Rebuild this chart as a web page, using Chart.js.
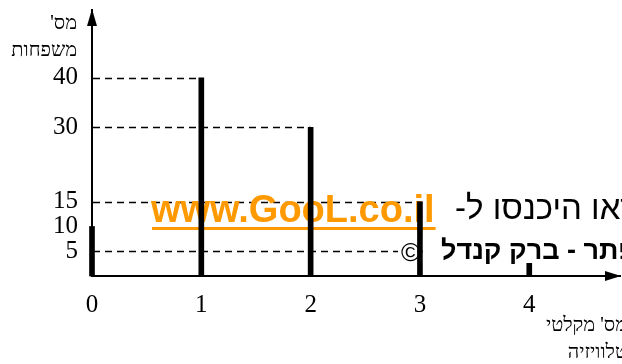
<!DOCTYPE html>
<html dir="ltr"><head><meta charset="utf-8">
<script src="https://cdn.jsdelivr.net/npm/chart.js@4/dist/chart.umd.min.js"></script>
<style>html,body{margin:0;padding:0;background:#fff}#wrap{width:622px;height:364px;position:relative}</style>
</head><body><div id="wrap"><canvas id="c" width="622" height="364"></canvas></div>
<script>
const tvCounts = [0, 1, 2, 3, 4];
const families = [10, 40, 30, 15, 5];
const yTickValues = [5, 10, 15, 30, 40];
const guideBars = [1, 2, 3, 4];
const yTitle = ["מס'", "משפחות"];
const xTitle = ["מס' מקלטי", "טלוויזיה"];
const watermarkUrl = "www.GooL.co.il";
const watermarkLine1 = "ראו היכנסו ל-";
const watermarkLine2 = "פתר - ברק קנדל";

const SERIF = "'Liberation Serif', 'DejaVu Serif', serif";
const SANS = "'Liberation Sans', Arial, sans-serif";

const overlay = {
  id: 'overlay',
  beforeDatasetsDraw(chart) {
    const {ctx, chartArea: a, scales: {x, y}} = chart;
    ctx.save();
    ctx.strokeStyle = '#000';
    ctx.lineWidth = 1.5;
    ctx.setLineDash([7, 5]);
    guideBars.forEach(i => {
      const py = Math.round(y.getPixelForValue(families[i])) + 0.5;
      ctx.beginPath();
      ctx.moveTo(a.left + 1, py);
      ctx.lineTo(x.getPixelForValue(tvCounts[i]), py);
      ctx.stroke();
    });
    ctx.setLineDash([]);
    ctx.font = 'bold 38px ' + SANS;
    ctx.fillStyle = '#FF9900';
    ctx.textBaseline = 'alphabetic';
    ctx.textAlign = 'left';
    ctx.direction = 'ltr';
    ctx.fillText(watermarkUrl, 151, 222);
    const w = ctx.measureText(watermarkUrl).width;
    ctx.fillRect(152, 227, w, 3);
    ctx.font = '33px ' + SANS;
    ctx.fillStyle = '#000';
    ctx.direction = 'rtl';
    ctx.textAlign = 'right';
    ctx.fillText(watermarkLine1, 638, 219);
    ctx.restore();
  },
  afterDatasetsDraw(chart) {
    const {ctx, scales: {x}} = chart;
    const b3 = x.getPixelForValue(tvCounts[3]);
    ctx.save();
    ctx.fillStyle = '#fff';
    ctx.fillRect(398, 238, b3 - 3 - 398, 25);
    ctx.fillRect(b3 + 3, 238, 622 - b3 - 3, 25);
    ctx.fillStyle = '#000';
    ctx.font = 'bold 27px ' + SANS;
    ctx.direction = 'rtl';
    ctx.textAlign = 'right';
    ctx.textBaseline = 'alphabetic';
    ctx.fillText(watermarkLine2, 636, 259);
    ctx.direction = 'ltr';
    ctx.font = '26px ' + SANS;
    ctx.textAlign = 'left';
    ctx.fillText('©', 401, 261);
    ctx.restore();
  },
  afterDraw(chart) {
    const {ctx, chartArea: a} = chart;
    ctx.save();
    ctx.fillStyle = '#000';
    const ax = a.left;
    ctx.beginPath();
    ctx.moveTo(ax, 9);
    ctx.lineTo(ax - 5, 26);
    ctx.lineTo(ax + 5, 26);
    ctx.closePath();
    ctx.fill();
    const ay = a.bottom;
    ctx.beginPath();
    ctx.moveTo(621, ay);
    ctx.lineTo(605, ay - 5);
    ctx.lineTo(605, ay + 5);
    ctx.closePath();
    ctx.fill();
    ctx.font = '20px ' + SERIF;
    ctx.direction = 'rtl';
    ctx.textAlign = 'right';
    ctx.textBaseline = 'middle';
    ctx.fillText(yTitle[0], 77, 24);
    ctx.fillText(yTitle[1], 77, 51);
    ctx.fillText(xTitle[0], 627, 326);
    ctx.fillText(xTitle[1], 627, 353);
    ctx.restore();
  }
};

new Chart(document.getElementById('c').getContext('2d'), {
  type: 'bar',
  data: {
    datasets: [{
      data: tvCounts.map((v, i) => ({x: v, y: families[i]})),
      backgroundColor: '#000',
      borderWidth: 0,
      barThickness: 5,
      clip: false
    }]
  },
  options: {
    responsive: false,
    animation: false,
    layout: {padding: {top: 10, right: 2, left: 0, bottom: 0}},
    plugins: {legend: {display: false}, tooltip: {enabled: false}},
    scales: {
      x: {
        type: 'linear', min: 0, max: 4.83, offset: false,
        grid: {display: false, drawTicks: false},
        border: {display: true, color: '#000', width: 2},
        afterBuildTicks: s => { s.ticks = tvCounts.map(v => ({value: v})); },
        afterFit: s => { s.height = 88; s.paddingLeft = 0; s.paddingRight = 0; },
        ticks: {color: '#000', font: {family: SERIF, size: 25}, padding: 14, maxRotation: 0, autoSkip: false}
      },
      y: {
        min: 0, max: 53.7,
        grid: {display: false, drawTicks: false},
        border: {display: true, color: '#000', width: 2},
        afterBuildTicks: s => { s.ticks = yTickValues.map(v => ({value: v})); },
        afterFit: s => { s.width = 92; s.paddingTop = 0; s.paddingBottom = 0; },
        ticks: {color: '#000', font: {family: SERIF, size: 25}, padding: 14, autoSkip: false}
      }
    }
  },
  plugins: [overlay]
});
</script></body></html>
